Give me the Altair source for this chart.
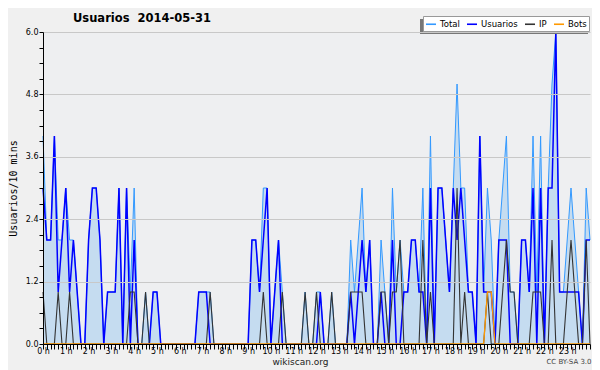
import altair as alt
import pandas as pd

# ---- data (10-minute slots, 0:00 .. 24:00) ----
hour_labels = ["0 h", "1 h", "2 h", "3 h", "4 h", "5 h", "6 h", "7 h", "8 h", "9 h",
               "10 h", "11 h", "12 h", "13 h", "14 h", "15 h", "16 h", "17 h", "18 h",
               "19 h", "20 h", "21 h", "22 h", "23 h"]

total = [
    4, 2, 2, 4, 2, 2, 3, 2, 2, 1,
    0, 0, 2, 3, 3, 2, 0, 1, 1, 1,
    3, 0, 3, 1, 3, 0, 0, 1, 0, 1,
    1, 0, 0, 0, 0, 0, 0, 0, 0, 0,
    0, 1, 1, 1, 1, 0, 0, 0, 0, 0,
    0, 0, 0, 0, 0, 2, 2, 1, 3, 3,
    0, 1, 2, 1, 0, 0, 0, 0, 0, 1,
    0, 0, 1, 1, 0, 0, 1, 0, 0, 0,
    0, 2, 1, 2, 3, 1, 2, 0, 0, 2,
    1, 0, 3, 1, 2, 1, 1, 2, 2, 1,
    3, 0, 4, 0, 3, 3, 2, 1, 3, 5,
    3, 3, 1, 1, 0, 4, 1, 3, 2, 0,
    2, 3, 4, 1, 1, 0, 2, 2, 1, 4,
    1, 4, 0, 3, 5, 6, 1, 1, 2, 3,
    2, 1, 0, 3, 2,
]

usuarios = [
    3, 2, 2, 4, 1, 2, 3, 1, 2, 1,
    0, 0, 2, 3, 3, 2, 0, 1, 1, 1,
    3, 0, 3, 0, 2, 0, 0, 0, 0, 1,
    1, 0, 0, 0, 0, 0, 0, 0, 0, 0,
    0, 1, 1, 1, 0, 0, 0, 0, 0, 0,
    0, 0, 0, 0, 0, 2, 2, 1, 2, 3,
    0, 1, 2, 0, 0, 0, 0, 0, 0, 0,
    0, 0, 0, 1, 0, 0, 0, 0, 0, 0,
    0, 1, 0, 1, 2, 1, 2, 0, 0, 1,
    0, 0, 2, 0, 0, 1, 1, 2, 2, 1,
    1, 0, 3, 0, 3, 3, 2, 1, 3, 2,
    3, 2, 1, 1, 0, 4, 1, 1, 1, 0,
    2, 2, 2, 0, 0, 0, 2, 2, 1, 3,
    0, 3, 0, 3, 3, 6, 1, 1, 1, 1,
    1, 1, 0, 2, 2,
]

ip = [
    1, 0, 0, 0, 1, 0, 0, 1, 0, 0,
    0, 0, 0, 0, 0, 0, 0, 0, 0, 0,
    0, 0, 0, 1, 1, 0, 0, 1, 0, 0,
    0, 0, 0, 0, 0, 0, 0, 0, 0, 0,
    0, 0, 0, 0, 1, 0, 0, 0, 0, 0,
    0, 0, 0, 0, 0, 0, 0, 0, 1, 0,
    0, 0, 0, 1, 0, 0, 0, 0, 0, 1,
    0, 0, 1, 0, 0, 0, 1, 0, 0, 0,
    0, 1, 1, 1, 1, 0, 0, 0, 0, 1,
    1, 0, 1, 1, 2, 0, 0, 0, 0, 0,
    2, 0, 1, 0, 0, 0, 0, 0, 0, 3,
    0, 1, 0, 0, 0, 0, 0, 1, 0, 0,
    0, 1, 2, 1, 1, 0, 0, 0, 0, 1,
    1, 1, 0, 0, 2, 0, 0, 0, 1, 2,
    1, 0, 0, 2, 0,
]

bots = [
    0, 0, 0, 0, 0, 0, 0, 0, 0, 0,
    0, 0, 0, 0, 0, 0, 0, 0, 0, 0,
    0, 0, 0, 0, 0, 0, 0, 0, 0, 0,
    0, 0, 0, 0, 0, 0, 0, 0, 0, 0,
    0, 0, 0, 0, 0, 0, 0, 0, 0, 0,
    0, 0, 0, 0, 0, 0, 0, 0, 0, 0,
    0, 0, 0, 0, 0, 0, 0, 0, 0, 0,
    0, 0, 0, 0, 0, 0, 0, 0, 0, 0,
    0, 0, 0, 0, 0, 0, 0, 0, 0, 0,
    0, 0, 0, 0, 0, 0, 0, 0, 0, 0,
    0, 0, 0, 0, 0, 0, 0, 0, 0, 0,
    0, 0, 0, 0, 0, 0, 0, 1, 1, 0,
    0, 0, 0, 0, 0, 0, 0, 0, 0, 0,
    0, 0, 0, 0, 0, 0, 0, 0, 0, 0,
    0, 0, 0, 0, 0,
]

series_names = ["Total", "Usuarios", "IP", "Bots"]
series_colors = ["#3399ff", "#0000ff", "#333333", "#ff9900"]
series_widths = [1.0, 1.5, 1.1, 1.3]

y_tick_values = [0.0, 0.3, 0.6, 0.9, 1.2, 1.5, 1.8, 2.1, 2.4, 2.7, 3.0, 3.3, 3.6,
                 3.9, 4.2, 4.5, 4.8, 5.1, 5.4, 5.7, 6.0]

title_text = "Usuarios\u00a0 2014-05-31"
y_title = "Usuarios/10 mins"
x_title = "wikiscan.org"
license_text = "CC BY-SA 3.0"

# ---- build tables ----
slots = list(range(len(total)))
wide = pd.DataFrame({"slot": slots, "Total": total, "Usuarios": usuarios,
                     "IP": ip, "Bots": bots})
long = wide.melt(id_vars="slot", var_name="serie", value_name="v")

label_array = "[" + ",".join("'" + h + "'" for h in hour_labels) + "]"

x_axis = alt.Axis(
    values=slots,
    labelExpr="datum.value % 6 === 0 ? " + label_array + "[datum.value / 6] : ''",
    tickSize=5, tickColor="black", domainColor="black", domainWidth=1,
    labelFont="DejaVu Sans", labelFontSize=8, labelColor="black",
    labelPadding=-2, labelOverlap=False, labelFlush=False, grid=False,
    titleX=257, titleY=17, titleAlign="center", titleBaseline="middle",
    titleFont="DejaVu Sans", titleFontSize=9, titleFontWeight="normal",
    titleColor="#222222", zindex=1,
)

major_test = "round(datum.value * 10) % 12 === 0"
y_axis = alt.Axis(
    values=y_tick_values,
    labelExpr=major_test + " ? format(datum.value, '.1f') : ''",
    tickSize=4, tickColor="black", domainColor="black", domainWidth=1,
    labelFont="DejaVu Sans", labelFontSize=8, labelColor="black",
    labelPadding=1, labelOverlap=False, labelFlush=False,
    grid=True, gridColor="#c8c8c8", gridWidth=1,
    gridOpacity={"condition": {"test": major_test, "value": 1}, "value": 0},
    titleX=-30, titleY=156, titleAlign="center",
    titleBaseline="middle", titleFont="DejaVu Sans Mono", titleFontSize=10,
    titleFontWeight="normal", titleColor="black", zindex=1,
)

x_enc = alt.X("slot:Q", scale=alt.Scale(domain=[0, 144], nice=False, zero=False),
              axis=x_axis, title=x_title)
y_enc = alt.Y("v:Q", scale=alt.Scale(domain=[0, 6], nice=False),
              axis=y_axis, title=y_title)

color_enc = alt.Color(
    "serie:N",
    scale=alt.Scale(domain=series_names, range=series_colors),
    legend=alt.Legend(
        orient="none", legendX=380, legendY=-16, direction="horizontal",
        title=None, fillColor="white", strokeColor="#999999", padding=2,
        symbolType="stroke", symbolStrokeWidth=1.6, symbolSize=100,
        symbolStrokeColor={"expr": "scale('color', datum.value)"},
        labelFont="DejaVu Sans", labelFontSize=8.5, labelColor="black",
        columnPadding=3, labelOffset=3,
    ),
)

shadow = (
    alt.Chart(pd.DataFrame({"k": [0]}))
    .mark_rect(color="#777777")
    .encode(x=alt.value(377), x2=alt.value(545), y=alt.value(-13), y2=alt.value(2))
)

area = (
    alt.Chart(long)
    .transform_filter("datum.serie === 'Total'")
    .mark_area(color="#c5dcf0", opacity=1)
    .encode(x=x_enc, y=y_enc)
)

line_layers = []
for name, w in zip(series_names, series_widths):
    line_layers.append(
        alt.Chart(long)
        .transform_filter("datum.serie === '" + name + "'")
        .mark_line(strokeWidth=w)
        .encode(x=x_enc, y=y_enc, color=color_enc)
    )

cc = (
    alt.Chart(pd.DataFrame({"t": [license_text]}))
    .mark_text(font="DejaVu Sans", fontSize=7, color="#444444", align="center",
               baseline="middle")
    .encode(text="t:N", x=alt.value(526), y=alt.value(330))
)

chart = (
    alt.layer(area, *line_layers, shadow, cc)
    .properties(
        width=547, height=312,
        title=alt.TitleParams(title_text, anchor="start", dx=65, dy=15,
                              font="DejaVu Sans", fontSize=11.5, fontWeight="bold",
                              color="black", offset=6),
        autosize=alt.AutoSizeParams(type="none"),
        padding={"left": 35, "top": 24, "right": 2, "bottom": 26},
    )
    .configure(background="#f0f0f0")
    .configure_view(fill="#eeeff1", stroke=None)
)

chart.save("out.html", embed_options={"renderer": "svg", "actions": False})
